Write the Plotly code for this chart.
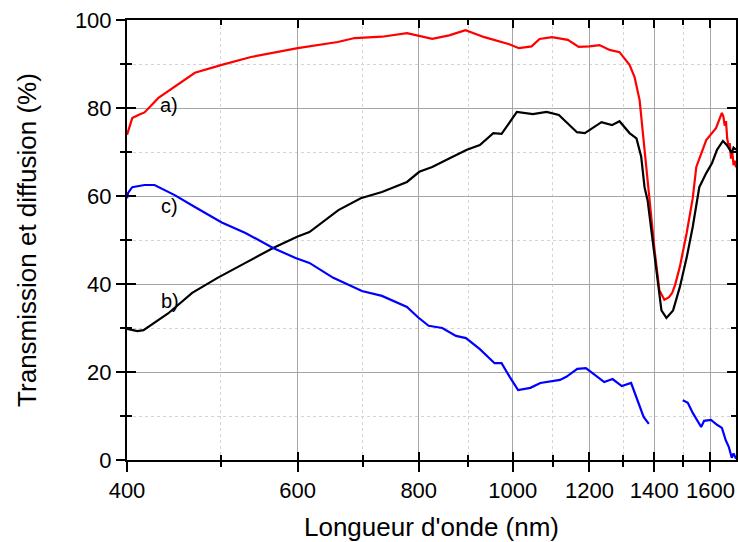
import numpy as np
import plotly.graph_objects as go

# a) transmission
wl_a = [400, 405, 412, 417, 431, 448, 470, 501, 537, 600, 660, 687, 733, 778, 826, 860,
        894, 935, 992, 1015, 1046, 1066, 1098, 1140, 1170, 1200, 1229, 1259, 1289, 1320,
        1336, 1352, 1368, 1385, 1401, 1417, 1434, 1450, 1461, 1471, 1488, 1512, 1534, 1547,
        1584, 1621, 1644, 1650, 1655, 1660, 1665, 1670, 1675, 1680, 1685, 1690, 1695, 1700]
val_a = [73.9, 77.7, 78.5, 79, 82.3, 84.8, 88, 89.8, 91.6, 93.6, 95, 95.9, 96.2, 97, 95.7, 96.5,
         97.7, 96.1, 94.5, 93.6, 94, 95.7, 96.1, 95.5, 93.9, 94, 94.3, 93.2, 92.7, 89.8,
         87, 81.8, 70, 59, 47.7, 38.6, 36.4, 37, 38, 39.8, 44, 51.6, 59.5, 66.6,
         72.7, 75.4, 78.9, 78, 76, 77, 73, 71.5, 72, 68.5, 70, 67, 68, 66.5]

# b) black curve
wl_b = [400, 404, 410, 416, 424, 441, 467, 496, 530, 566, 600, 617, 661, 697, 733, 778, 801,
        826, 861, 897, 925, 955, 974, 1010, 1049, 1084, 1116, 1143, 1165, 1187, 1210, 1235,
        1266, 1289, 1320, 1342, 1357, 1368, 1378, 1395, 1411, 1424, 1441, 1464, 1488, 1512,
        1534, 1547, 1558, 1584, 1606, 1625, 1648, 1663, 1683, 1690, 1700]
val_b = [29.8, 29.6, 29.3, 29.5, 30.7, 33.3, 38, 41.4, 44.8, 48.2, 50.8, 51.8, 56.8, 59.5, 60.9, 63.2, 65.5,
         66.6, 68.6, 70.5, 71.6, 74.3, 74.1, 79.1, 78.6, 79.1, 78.4, 76.1, 74.5, 74.3, 75.5, 76.8,
         76.1, 77, 74.3, 73.1, 69, 62, 59, 50, 41, 34, 32.3, 34, 39.4, 46,
         53, 57.6, 62, 65.2, 67.5, 70.5, 72.5, 71.6, 69.8, 71, 70.5]

# c) diffusion (gap around 1400-1500 nm)
wl_c = [400, 401, 405, 417, 427, 448, 470, 501, 530, 566, 597, 617, 653, 699, 733, 778, 798,
        819, 846, 874, 895, 925, 958, 974, 993, 1013, 1043, 1068, 1119, 1136, 1166, 1190,
        1208, 1243, 1268, 1296, 1325, 1349, 1365, 1382, 1440,
        1498, 1516, 1534, 1551, 1565, 1576, 1602, 1625, 1644, 1659, 1671, 1683, 1690, 1700]
val_c = [59.5, 60.7, 62, 62.5, 62.5, 60.2, 57.5, 54, 51.6, 48.2, 45.9, 44.8, 41.4, 38.4, 37.3, 34.8, 32.5,
         30.5, 30, 28.2, 27.7, 25.2, 22, 22, 18.9, 15.9, 16.4, 17.5, 18.2, 18.9, 20.7, 20.9,
         19.8, 17.7, 18.4, 16.8, 17.5, 13, 9.8, 8.2, None,
         13.6, 13, 10.7, 9.1, 7.5, 8.9, 9.1, 8, 7.3, 4.5, 3, 0.5, 1.5, 0.3]

x_ticks = [400, 600, 800, 1000, 1200, 1400, 1600]
x_minor = [500, 700, 900, 1100, 1300, 1500]
labels = ['a)', 'b)', 'c)']
label_pos = [(442, 80.7), (443, 36.1), (442, 57.7)]

x_range = [np.log10(400), np.log10(1700)]
font = 'Liberation Sans, Arial, sans-serif'

fig = go.Figure()
fig.add_trace(go.Scatter(x=wl_a, y=val_a, mode='lines', line=dict(color='#ff0000', width=2.2), showlegend=False))
fig.add_trace(go.Scatter(x=wl_b, y=val_b, mode='lines', line=dict(color='#000000', width=2.2), showlegend=False))
fig.add_trace(go.Scatter(x=wl_c, y=val_c, mode='lines', line=dict(color='#0000ff', width=2.2), showlegend=False))
# empty trace so the second (inside ticks) axis pair gets drawn
fig.add_trace(go.Scatter(x=[], y=[], xaxis='x2', yaxis='y2', showlegend=False))

for txt, (lx, ly) in zip(labels, label_pos):
    fig.add_annotation(x=np.log10(lx), y=ly, text=txt, showarrow=False,
                       font=dict(size=20, color='black', family=font))

fig.update_layout(
    width=738, height=542,
    margin=dict(l=127, r=2, t=20, b=82),
    plot_bgcolor='white', paper_bgcolor='white',
    font=dict(family=font, color='black'),
    xaxis=dict(type='log', range=x_range, tickmode='array', tickvals=x_ticks,
               ticktext=[str(v) for v in x_ticks], ticks='outside', ticklen=10, tickwidth=1.5,
               tickcolor='black', showline=True, linecolor='black', linewidth=2,
               showgrid=True, gridcolor='#a6a6a6', gridwidth=1, automargin=False,
               tickfont=dict(size=22), zeroline=False,
               minor=dict(tickvals=x_minor, ticks='outside', ticklen=5, tickwidth=1.5, tickcolor='black',
                          showgrid=True, gridcolor='#d4d4d4', griddash='dot', gridwidth=1),
               title=dict(text="Longueur d'onde (nm)", font=dict(size=26), standoff=18)),
    yaxis=dict(range=[0, 100], tickmode='array', tickvals=[0, 20, 40, 60, 80, 100],
               ticks='outside', ticklen=9, tickwidth=1.5, tickcolor='black',
               showline=True, linecolor='black', linewidth=2, automargin=False,
               showgrid=True, gridcolor='#a6a6a6', gridwidth=1, zeroline=False,
               tickfont=dict(size=22),
               minor=dict(tickvals=[10, 30, 50, 70, 90], ticks='outside', ticklen=5, tickwidth=1.5,
                          tickcolor='black', showgrid=True, gridcolor='#d4d4d4', griddash='dot', gridwidth=1),
               title=dict(text='Transmission et diffusion (%)', font=dict(size=26), standoff=31)),
    xaxis2=dict(type='log', range=x_range, overlaying='x', anchor='y2', side='bottom',
                tickmode='array', tickvals=x_ticks, ticks='inside', ticklen=8, tickwidth=1.5,
                tickcolor='black', mirror='allticks', showline=True, linecolor='black', linewidth=2,
                showticklabels=False, showgrid=False, zeroline=False, automargin=False,
                minor=dict(tickvals=x_minor, ticks='inside', ticklen=5, tickwidth=1.5, tickcolor='black',
                           showgrid=False)),
    yaxis2=dict(range=[0, 100], overlaying='y', anchor='x2', side='left',
                tickmode='array', tickvals=[0, 20, 40, 60, 80, 100], ticks='inside', ticklen=9,
                tickwidth=1.5, tickcolor='black', mirror='allticks', showline=True, automargin=False,
                linecolor='black', linewidth=2, showticklabels=False, showgrid=False, zeroline=False,
                minor=dict(tickvals=[10, 30, 50, 70, 90], ticks='inside', ticklen=5, tickwidth=1.5,
                           tickcolor='black', showgrid=False)),
)

# page body has a default 8px margin; drop it so the figure fills the window
fig.write_html("out.html", config={'displayModeBar': False},
               post_script="document.body.style.margin='0px';")
